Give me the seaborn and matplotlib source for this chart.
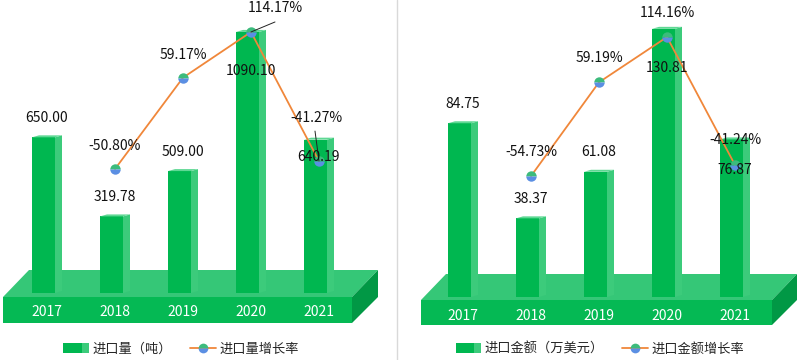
import matplotlib
matplotlib.use('Agg')
import matplotlib.pyplot as plt
import seaborn as sns
from matplotlib.patches import Polygon, Rectangle
from matplotlib.lines import Line2D
from matplotlib.transforms import Affine2D

# data
years = ['2017', '2018', '2019', '2020', '2021']
volume = [650.00, 319.78, 509.00, 1090.10, 640.19]          # 进口量（吨）
volume_growth = [-50.80, 59.17, 114.17, -41.27]              # 2018-2021
amount = [84.75, 38.37, 61.08, 130.81, 76.87]                # 进口金额（万美元）
amount_growth = [-54.73, 59.19, 114.16, -41.24]
growth_years = ['2018', '2019', '2020', '2021']
bar_names = ['进口量（吨）', '进口金额（万美元）']
line_names = ['进口量增长率', '进口金额增长率']

FRONT = '#00b750'
SIDE = '#3ccb7b'
TOP = '#5fd894'
FLOOR_TOP = '#35c777'
FLOOR_FRONT = '#05b954'
FLOOR_SIDE = '#019845'
LINE = '#f0873a'
DOT_TOP = '#3cbb7c'
DOT_BOT = '#5b8fe3'

sns.set_theme(style='white')
plt.rcParams['font.family'] = ['Noto Sans CJK SC', 'DejaVu Sans']

fig = plt.figure(figsize=(8, 3.6), dpi=100)
fig.patch.set_facecolor('white')
# figure pixels, origin at top-left
px = Affine2D().scale(0.01, -0.01).translate(0, 3.6) + fig.dpi_scale_trans

STEP = 68  # px between categories


class TwoTone:
    pass


class TwoToneHandler:
    def legend_artist(self, legend, orig_handle, fontsize, handlebox):
        x0, y0 = handlebox.xdescent, handlebox.ydescent
        w, h = handlebox.width, handlebox.height
        a = Rectangle((x0, y0), w * 0.72, h, color=FRONT, lw=0, transform=handlebox.get_transform())
        b = Rectangle((x0 + w * 0.72, y0), w * 0.28, h, color=SIDE, lw=0, transform=handlebox.get_transform())
        handlebox.add_artist(a)
        handlebox.add_artist(b)
        return a


def panel(left, width, cx0, base, ppu, rzero, rppu, floor, vals, rates,
          bar_off, rate_off, leaders, year_y, leg_x, bar_name, line_name):
    ax = fig.add_axes([left / 800, 0, width / 800, 1])
    sns.barplot(x=years, y=vals, color=FRONT, saturation=1, width=23 / STEP,
                errorbar=None, ax=ax, zorder=2, linewidth=0, edgecolor='none')
    xlim = ((left - cx0) / STEP, (left + width - cx0) / STEP)
    ax.set_xlim(xlim)
    ax.set_ylim((base - 360) / ppu, base / ppu)
    ax.axis('off')

    # floor slab
    fx0, fx1, fy0, fy1, depth = floor
    ax.add_patch(Polygon([(fx0, fy0), (fx0 + depth, fy0 - depth - 1), (fx1 + depth, fy0 - depth - 1), (fx1, fy0)],
                         closed=True, color=FLOOR_TOP, transform=px, zorder=0.5, lw=0))
    ax.add_patch(Polygon([(fx0, fy0), (fx1, fy0), (fx1, fy1), (fx0, fy1)],
                         closed=True, color=FLOOR_FRONT, transform=px, zorder=0.6, lw=0))
    ax.add_patch(Polygon([(fx1, fy0), (fx1 + depth, fy0 - depth - 1), (fx1 + depth, fy1 - depth), (fx1, fy1)],
                         closed=True, color=FLOOR_SIDE, transform=px, zorder=0.6, lw=0))

    # 3d sides and tops of the bars
    side = 7 / STEP
    dy = 2 / ppu
    for i, p in enumerate(list(ax.patches)[:len(vals)]):
        x = i - 15 / STEP
        p.set_x(x)
        w, h = p.get_width(), p.get_height()
        ax.add_patch(Polygon([(x + w, 0), (x + w + side, dy), (x + w + side, h + dy), (x + w, h)],
                             closed=True, color=SIDE, lw=0, zorder=2))
        ax.add_patch(Polygon([(x, h), (x + w, h), (x + w + side, h + dy), (x + side, h + dy)],
                             closed=True, color=TOP, lw=0, zorder=2))
        ax.text(i, (base - year_y) / ppu, years[i], color='white', ha='center', va='center',
                fontsize=10, zorder=3)

    ax2 = ax.twinx()
    idx = [years.index(y) for y in growth_years]
    sns.lineplot(x=idx, y=rates, ax=ax2, color=LINE, lw=1.3, marker='o', markersize=7.5,
                 fillstyle='top', markerfacecolor=DOT_TOP, markerfacecoloralt=DOT_BOT,
                 markeredgewidth=0, legend=False, zorder=3)
    ax2.set_ylim((rzero - 360) / rppu, rzero / rppu)
    ax.set_xlim(xlim)
    ax2.axis('off')

    for i, v in enumerate(vals):
        ax2.annotate(f'{v:.2f}', xy=(i, v), xycoords=ax.transData, xytext=(0, bar_off[i]),
                     textcoords='offset pixels', ha='center', va='center', fontsize=10,
                     color='#111111', zorder=5)
    for k, (i, r) in enumerate(zip(idx, rates)):
        ax2.annotate(f'{r:.2f}%', xy=(i, r), xytext=rate_off[k], textcoords='offset pixels',
                     ha='center', va='center', fontsize=10, color='#111111', zorder=5)
    for k, off in leaders:
        ax2.annotate('', xy=(idx[k], rates[k]), xytext=off, textcoords='offset pixels',
                     arrowprops=dict(arrowstyle='-', color='#222222', lw=0.7, shrinkA=0, shrinkB=0))

    handles = [TwoTone(),
               Line2D([], [], color=LINE, lw=1.3, marker='o', markersize=7, fillstyle='top',
                      markerfacecolor=DOT_TOP, markerfacecoloralt=DOT_BOT, markeredgewidth=0)]
    ax2.legend(handles, [bar_name, line_name], handler_map={TwoTone: TwoToneHandler()},
               loc='center', bbox_to_anchor=(leg_x, 349), bbox_transform=px, ncol=2,
               frameon=False, fontsize=9.5, handlelength=1.95, handletextpad=0.25,
               columnspacing=1.4)


panel(0, 397, 47, 293, 0.2395, 126.8, 0.8305, (3, 352, 297, 323, 26),
      volume, volume_growth,
      [19, 19, 19, -39, -17],
      [(0, 23), (0, 23), (24, 24), (-3, 43)],
      [(2, (24, 10)), (3, (-4, 30))],
      312, 181, bar_names[0], line_names[0])

panel(400, 400, 463, 297, 2.05, 131.0, 0.823, (421, 772, 300, 325, 25),
      amount, amount_growth,
      [19, 19, 20, -39, -31],
      [(0, 24), (0, 24), (0, 24), (0, 25)],
      [],
      316, 600, bar_names[1], line_names[1])

fig.add_artist(Line2D([397, 397], [0, 360], transform=px, color='#d9d9d9', lw=1))

fig.savefig('out.png', dpi=100, facecolor='white')
